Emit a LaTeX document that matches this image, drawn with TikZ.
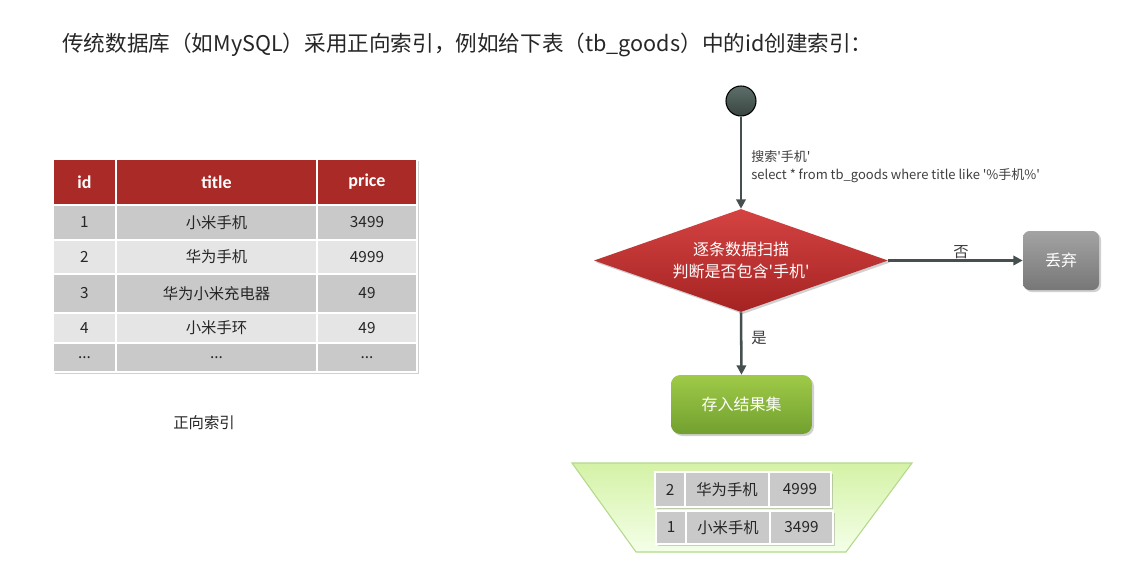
\documentclass[tikz,border=0pt]{standalone}
\usepackage{fontspec}
\setmainfont{Noto Sans CJK SC}[Ligatures=TeXOff]
\newfontfamily\hdrfont{Carlito}[Ligatures=TeXOff]
\usetikzlibrary{shapes.geometric,shadows,arrows.meta}
\definecolor{hdr}{HTML}{A92A27}
\definecolor{rowa}{HTML}{C9C9C9}
\definecolor{rowb}{HTML}{E5E5E5}
\definecolor{arr}{HTML}{454F4F}
\definecolor{txt}{HTML}{262626}
\definecolor{lbl}{HTML}{3F3F3F}
\definecolor{starttop}{HTML}{5D6F6B}
\definecolor{startbot}{HTML}{39443F}
\definecolor{diatop}{HTML}{D44342}
\definecolor{diabot}{HTML}{A42322}
\definecolor{graytop}{HTML}{A3A3A3}
\definecolor{graybot}{HTML}{777777}
\definecolor{greentop}{HTML}{9FCA48}
\definecolor{greenbot}{HTML}{72A02F}
\definecolor{trapdraw}{HTML}{B3D98A}
\definecolor{traptop}{HTML}{D4F2A6}
\definecolor{trapbot}{HTML}{F4FFE8}
\tikzset{
  cell/.style={rectangle, draw=white, line width=1.2pt, inner sep=0pt, outer sep=0pt, text=txt, font=\fontsize{11.5}{13}\selectfont},
  hcell/.style={cell, fill=hdr, text=white, font=\hdrfont\bfseries\fontsize{13.5}{15}\selectfont},
  flowarrow/.style={draw=arr, line width=1.9pt, -{Triangle[length=7pt,width=7pt]}},
  flowlabel/.style={text=lbl, inner sep=0pt, font=\fontsize{11.5}{13}\selectfont},
  shad/.style={drop shadow={shadow xshift=1.5pt, shadow yshift=-1.5pt, opacity=0.3, fill=black!60}},
}
\begin{document}
\begin{tikzpicture}[x=0.75pt,y=-0.75pt]
\useasboundingbox[fill=white] (0,0) rectangle (1147,561);

% title
\node[anchor=west, inner sep=0pt, text=txt, font=\fontsize{16.2}{19}\selectfont] (title) at (62,45)
  {传统数据库（如MySQL）采用正向索引，例如给下表（tb\_goods）中的id创建索引：};

% table background with shadow
\path[fill=white, shad] (53,159) rectangle (417,372);
% header
\node[hcell, minimum width=47.25pt, minimum height=34.5pt] (h1) at (84.5,182) {id};
\node[hcell, minimum width=150.75pt, minimum height=34.5pt] (h2) at (216.5,182) {title};
\node[hcell, minimum width=75pt, minimum height=34.5pt] (h3) at (367,182) {price};
% rows
\node[cell, fill=rowa, minimum width=47.25pt, minimum height=26.25pt] (r11) at (84.5,222.5) {1};
\node[cell, fill=rowa, minimum width=150.75pt, minimum height=26.25pt] (r12) at (216.5,222.5) {小米手机};
\node[cell, fill=rowa, minimum width=75pt, minimum height=26.25pt] (r13) at (367,222.5) {3499};
\node[cell, fill=rowb, minimum width=47.25pt, minimum height=25.5pt] (r21) at (84.5,257) {2};
\node[cell, fill=rowb, minimum width=150.75pt, minimum height=25.5pt] (r22) at (216.5,257) {华为手机};
\node[cell, fill=rowb, minimum width=75pt, minimum height=25.5pt] (r23) at (367,257) {4999};
\node[cell, fill=rowa, minimum width=47.25pt, minimum height=29.25pt] (r31) at (84.5,293.5) {3};
\node[cell, fill=rowa, minimum width=150.75pt, minimum height=29.25pt] (r32) at (216.5,293.5) {华为小米充电器};
\node[cell, fill=rowa, minimum width=75pt, minimum height=29.25pt] (r33) at (367,293.5) {49};
\node[cell, fill=rowb, minimum width=47.25pt, minimum height=22.5pt] (r41) at (84.5,328) {4};
\node[cell, fill=rowb, minimum width=150.75pt, minimum height=22.5pt] (r42) at (216.5,328) {小米手环};
\node[cell, fill=rowb, minimum width=75pt, minimum height=22.5pt] (r43) at (367,328) {49};
\node[cell, fill=rowa, minimum width=47.25pt, minimum height=21.75pt] (r51) at (84.5,357.5) {...};
\node[cell, fill=rowa, minimum width=150.75pt, minimum height=21.75pt] (r52) at (216.5,357.5) {...};
\node[cell, fill=rowa, minimum width=75pt, minimum height=21.75pt] (r53) at (367,357.5) {...};

\node[text=txt, inner sep=0pt, font=\fontsize{11.5}{13}\selectfont] (cap) at (204,423) {正向索引};

% flow
\node[circle, draw=black, line width=0.8pt, minimum size=22.5pt, inner sep=0pt,
      top color=starttop, bottom color=startbot] (start) at (741,101) {};
\node[diamond, minimum width=220.5pt, minimum height=77.25pt, inner sep=0pt,
      top color=diatop, bottom color=diabot, shad] (dia) at (741,260.5) {};
\node[text=white, align=center, inner sep=0pt, font=\fontsize{12}{16}\selectfont] (diatext) at (741,260.5)
  {逐条数据扫描\\判断是否包含'手机'};
\node[rectangle, rounded corners=5pt, minimum width=57pt, minimum height=44.25pt, inner sep=0pt,
      top color=graytop, bottom color=graybot, shad, text=white,
      font=\fontsize{12}{14}\selectfont] (discard) at (1061,260.5) {丢弃};
\node[rectangle, rounded corners=7pt, minimum width=105.75pt, minimum height=44.25pt, inner sep=0pt,
      top color=greentop, bottom color=greenbot, shad, text=white,
      font=\fontsize{12}{14}\selectfont] (store) at (741.5,404.5) {存入结果集};

\draw[flowarrow] (start) -- (dia.north);
\draw[flowarrow] (dia.east) -- (discard.west);
\draw[flowarrow] (dia.south) -- (store.north);

\node[flowlabel, anchor=north west, align=left, font=\fontsize{9.75}{13.5}\selectfont] (q) at (751,150)
  {搜索'手机'\\select * from tb\_goods where title like '\%手机\%'};
\node[flowlabel] (no) at (961,252) {否};
\node[flowlabel] (yes) at (759,338) {是};

% result set
\path[draw=trapdraw, line width=0.8pt, top color=traptop, bottom color=trapbot]
  (572,463) -- (912,463) -- (846,552) -- (636,552) -- cycle;
\path[fill=white, shad] (655,472) rectangle (831,507);
\node[cell, fill=rowa, minimum width=22.5pt, minimum height=26.25pt] (a1) at (670,489.5) {2};
\node[cell, fill=rowa, minimum width=63pt, minimum height=26.25pt] (a2) at (727,489.5) {华为手机};
\node[cell, fill=rowa, minimum width=46.5pt, minimum height=26.25pt] (a3) at (800,489.5) {4999};
\path[fill=white, shad] (656,511) rectangle (833,544);
\node[cell, fill=rowa, minimum width=22.5pt, minimum height=24.75pt] (b1) at (671,527.5) {1};
\node[cell, fill=rowa, minimum width=63pt, minimum height=24.75pt] (b2) at (728,527.5) {小米手机};
\node[cell, fill=rowa, minimum width=47.25pt, minimum height=24.75pt] (b3) at (801.5,527.5) {3499};
\end{tikzpicture}
\end{document}
